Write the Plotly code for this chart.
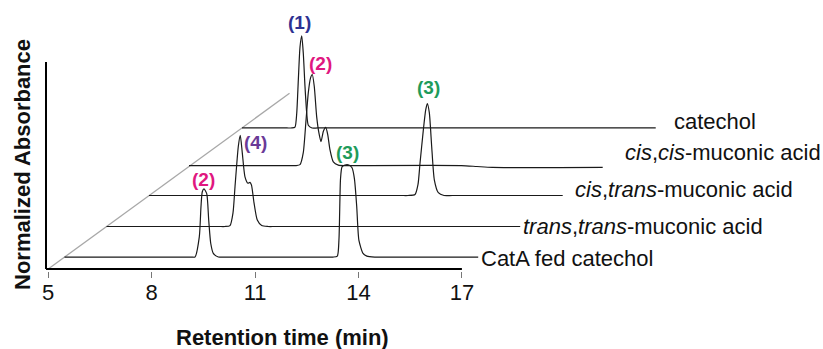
import plotly.graph_objects as go

# ---------------- data ----------------
# local retention time (min) and normalized absorbance for each chromatogram
trace_labels = [
    "catechol",
    "<i>cis</i>,<i>cis</i>-muconic acid",
    "<i>cis</i>,<i>trans</i>-muconic acid",
    "<i>trans</i>,<i>trans</i>-muconic acid",
    "CatA fed catechol",
]

t_catechol = [5.0, 6.30, 6.45, 6.537, 6.587, 6.633, 6.682, 6.732, 6.778, 6.827, 6.877, 6.923, 7.03, 7.2, 17.0]
a_catechol = [0, 0, 0, 0.01, 0.16, 0.52, 0.88, 1.0, 0.81, 0.45, 0.16, 0.03, 0, 0, 0]

t_ciscis = [5.0, 7.9, 8.1, 8.22, 8.315, 8.394, 8.46, 8.524, 8.576, 8.634, 8.704, 8.771, 8.829,
            8.896, 8.965, 9.023, 9.09, 9.186, 9.331, 9.525, 9.8, 12.9, 13.35, 13.8, 17.0]
a_ciscis = [0.01, 0.01, 0.01, 0.02, 0.15, 0.50, 0.80, 0.96, 1.0, 0.87, 0.54, 0.36, 0.27,
            0.38, 0.425, 0.35, 0.18, 0.05, 0.015, 0.01, 0.01, 0.01, 0.0, -0.01, -0.01]

t_cistrans = [5.0, 12.3, 12.513, 12.716, 12.803, 12.861, 12.957, 13.026, 13.073, 13.131, 13.200,
              13.276, 13.392, 13.557, 13.8, 17.0]
a_cistrans = [0, 0, 0, 0.01, 0.12, 0.35, 0.71, 0.93, 1.0, 0.90, 0.53, 0.17, 0.03, 0, 0, 0]

t_transtrans = [5.0, 8.25, 8.437, 8.582, 8.67, 8.727, 8.823, 8.881, 8.939, 9.017, 9.104, 9.162,
                9.206, 9.278, 9.374, 9.502, 9.685, 9.9, 17.0]
a_transtrans = [0, 0, 0, 0.01, 0.15, 0.43, 0.87, 0.99, 0.80, 0.54, 0.47, 0.48, 0.45, 0.26, 0.07,
                0.01, 0, 0, 0]

t_cata = [5.0, 8.5, 8.70, 8.785, 8.910, 8.959, 8.997, 9.046, 9.125, 9.183, 9.241, 9.316, 9.461,
          9.6, 12.6, 12.79, 12.913, 12.962, 13.006, 13.05, 13.136, 13.25, 13.34, 13.41, 13.476,
          13.54, 13.66, 13.77, 14.0, 14.3, 17.0]
a_cata = [0, 0, 0, 0.0, 0.22, 0.55, 0.71, 0.74, 0.69, 0.40, 0.15, 0.04, 0,
          0, 0, 0, 0.01, 0.2, 0.85, 0.98, 1.0, 1.0, 0.97, 0.85, 0.55,
          0.18, 0.04, 0.01, 0, 0, 0]

times = [t_catechol, t_ciscis, t_cistrans, t_transtrans, t_cata]
absorb = [a_catechol, a_ciscis, a_cistrans, a_transtrans, a_cata]

# depth offsets of each chromatogram (min along x, absorbance along y)
depth_dx = [5.622, 4.084, 2.924, 1.691, 0.473]
depth_dy = [1.533, 1.114, 0.799, 0.462, 0.130]
depth_axis_end = (12.0, 1.91)

x_ticks = [5, 8, 11, 14, 17]

# peak labels: (text, colour, trace index, peak time, peak height, xshift px, yshift px)
peak_labels = [
    ("(1)", "#2e3192", 0, 6.732, 1.0, -2, 13),
    ("(2)", "#e0177f", 1, 8.576, 1.0, 8, 11),
    ("(3)", "#1e9b5a", 2, 13.073, 1.0, 1, 16),
    ("(4)", "#6a3a97", 3, 8.881, 0.99, 15, -7),
    ("(3)", "#1e9b5a", 4, 13.19, 1.0, 1, 13),
    ("(2)", "#e0177f", 4, 9.046, 0.74, 0, 9),
]
# right-side name labels: (xshift px, yshift px)
name_shift = [(16, 6), (20, 14), (10, 6), (1, 0), (1, -1)]

# ---------------- geometry ----------------
W, H = 823, 349
ML, MR, MT, MB = 43, 10, 5, 78
PX_PER_MIN = 34.475
PX_PER_UNIT = 92.0
x_min = 5 - (48.2 - ML) / PX_PER_MIN
x_max = x_min + (W - ML - MR) / PX_PER_MIN
y_min = -2.0 / PX_PER_UNIT
y_max = y_min + (H - MT - MB) / PX_PER_UNIT

FONT = "Liberation Sans, Arial, sans-serif"
fig = go.Figure()

# depth guide line
fig.add_trace(go.Scatter(x=[5, depth_axis_end[0]], y=[0, depth_axis_end[1]], mode="lines",
                         line=dict(color="#a8a8a8", width=1.3), hoverinfo="skip", showlegend=False))

for i in range(len(times)):
    xs = [t + depth_dx[i] for t in times[i]]
    ys = [a + depth_dy[i] for a in absorb[i]]
    fig.add_trace(go.Scatter(x=xs, y=ys, mode="lines",
                             line=dict(color="#1a1a1a", width=1.2, shape="spline", smoothing=0.6),
                             hoverinfo="skip", showlegend=False))
    fig.add_annotation(x=times[i][-1] + depth_dx[i], y=depth_dy[i], xref="x", yref="y",
                       text=trace_labels[i], showarrow=False, xanchor="left", yanchor="middle",
                       xshift=name_shift[i][0], yshift=name_shift[i][1],
                       font=dict(family=FONT, size=22, color="#111"))

for txt, col, ti, pt, ph, xs_, ys_ in peak_labels:
    fig.add_annotation(x=pt + depth_dx[ti], y=ph + depth_dy[ti], xref="x", yref="y", text="<b>%s</b>" % txt,
                       showarrow=False, xanchor="center", yanchor="middle", xshift=xs_, yshift=ys_,
                       font=dict(family=FONT, size=19, color=col))

# axis lines
x_axis_start = 5 - 2.2 / PX_PER_MIN
fig.add_shape(type="line", x0=x_axis_start, x1=x_ticks[-1], y0=0, y1=0, xref="x", yref="y",
              line=dict(color="black", width=2))
fig.add_shape(type="line", x0=x_axis_start, x1=x_axis_start, y0=0, y1=2.25, xref="x", yref="y",
              line=dict(color="black", width=2))

plot_w = W - ML - MR
plot_h = H - MT - MB
fig.add_annotation(x=(282 - ML) / plot_w, y=(H - MB - 337) / plot_h, xref="paper", yref="paper",
                   text="<b>Retention time (min)</b>", showarrow=False, xanchor="center", yanchor="middle",
                   font=dict(family=FONT, size=22, color="#111"))
fig.add_annotation(x=(22 - ML) / plot_w, y=(H - MB - 165) / plot_h, xref="paper", yref="paper",
                   text="<b>Normalized Absorbance</b>", showarrow=False, textangle=-90,
                   xanchor="center", yanchor="middle",
                   font=dict(family=FONT, size=22, color="#111"))

fig.update_layout(
    width=W, height=H, margin=dict(l=ML, r=MR, t=MT, b=MB),
    paper_bgcolor="white", plot_bgcolor="white",
    xaxis=dict(range=[x_min, x_max], tickvals=x_ticks, ticktext=[str(v) for v in x_ticks],
               ticks="outside", ticklen=6, tickwidth=1, tickcolor="#777", ticklabelstandoff=-4,
               showgrid=False, zeroline=False, showline=False,
               tickfont=dict(family=FONT, size=22, color="#111")),
    yaxis=dict(range=[y_min, y_max], showticklabels=False, showgrid=False, zeroline=False,
               showline=False, ticks=""),
)

fig.write_html("out.html")
